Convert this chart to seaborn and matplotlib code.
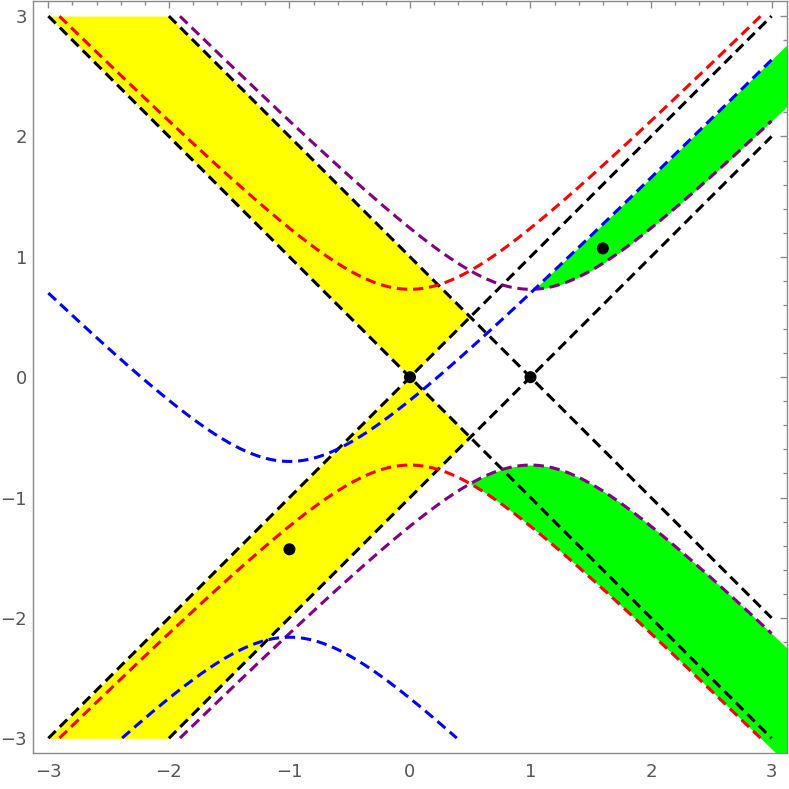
import numpy as np
import pandas as pd
import seaborn as sns
import matplotlib.pyplot as plt
from matplotlib.ticker import MultipleLocator

# hyperbola centres and the common semi-axis
curve_names = ["red", "purple", "blue"]
center_x = [0.0, 1.0, -1.0]
center_y = [0.0, 0.0, -1.43]
semi_axis = 0.73

# apexes of the black light-cone lines
cone_x = [0.0, 1.0]

# black dots
point_x = [0.0, 1.0, -1.0, 1.6]
point_y = [0.0, 0.0, -1.43, 1.07]

curve_colors = {"red": "#ff0000", "purple": "#800080", "blue": "#0000ff"}
x_lo, x_hi = -3.0, 3.0
pad = 0.125

sns.set_style("white")
plt.rcParams["font.family"] = ["DejaVu Sans"]

fig = plt.figure(figsize=(7.89, 7.89), dpi=100)
ax = fig.add_axes([0.0422, 0.0452, 0.997 - 0.0422, 0.9987 - 0.0452])

xs = np.linspace(x_lo, x_hi, 3001)
xf = np.linspace(x_lo - pad, x_hi + pad, 3001)


def branch(x, name, sign):
    i = curve_names.index(name)
    return center_y[i] + sign * np.sqrt(semi_axis ** 2 + (x - center_x[i]) ** 2)


# yellow regions between the two light cones
xm = (cone_x[0] + cone_x[1]) / 2
xy = np.linspace(x_lo, xm, 1001)
c0, c1 = cone_x
ax.fill_between(xy, np.maximum(-(xy - c0), xy - c0), np.minimum(-(xy - c1), 3),
                color="#ffff00", lw=0, zorder=1)
ax.fill_between(xy, np.maximum(xy - c1, -3), np.minimum(xy - c0, -(xy - c0)),
                color="#ffff00", lw=0, zorder=1)

# green regions
blue_up = branch(xf, "blue", 1)
purple_up = branch(xf, "purple", 1)
ax.fill_between(xf, purple_up, blue_up, where=blue_up >= purple_up,
                interpolate=True, color="#00ff00", lw=0, zorder=1)
red_lo = branch(xf, "red", -1)
purple_lo = branch(xf, "purple", -1)
ax.fill_between(xf, red_lo, purple_lo, where=purple_lo >= red_lo,
                interpolate=True, color="#00ff00", lw=0, zorder=1)

dash = dict(lw=2.2, dashes=(3.4, 1.9), dash_capstyle="butt")


def draw(y, color, z):
    keep = np.abs(y) <= 3 + 1e-9
    df = pd.DataFrame({"x": xs[keep], "y": y[keep]})
    sns.lineplot(data=df, x="x", y="y", ax=ax, color=color,
                 estimator=None, sort=False, zorder=z, **dash)


# black light-cone lines
for c in cone_x:
    for s in (1, -1):
        draw(s * (xs - c), "black", 2)

# hyperbolas
for name in curve_names:
    for s in (1, -1):
        draw(branch(xs, name, s), curve_colors[name], 3)

sns.scatterplot(x=point_x, y=point_y, ax=ax, color="black", s=75,
                edgecolor="none", zorder=5)

ax.set_xlim(x_lo - pad, x_hi + pad)
ax.set_ylim(x_lo - pad, x_hi + pad)
ax.set_xlabel("")
ax.set_ylabel("")
ax.xaxis.set_major_locator(MultipleLocator(1))
ax.yaxis.set_major_locator(MultipleLocator(1))
ax.xaxis.set_minor_locator(MultipleLocator(0.2))
ax.yaxis.set_minor_locator(MultipleLocator(0.2))
ax.tick_params(which="both", direction="in", top=True, right=True,
               color="#8a8a8a", width=1)
ax.tick_params(which="major", length=5)
ax.tick_params(which="minor", length=2.8)
ax.tick_params(axis="x", pad=7, labelsize=13, labelcolor="#555555")
ax.tick_params(axis="y", pad=4.5, labelsize=13, labelcolor="#555555")
for sp in ax.spines.values():
    sp.set_color("#8a8a8a")
    sp.set_linewidth(1)

fig.savefig("out.png", dpi=100)
